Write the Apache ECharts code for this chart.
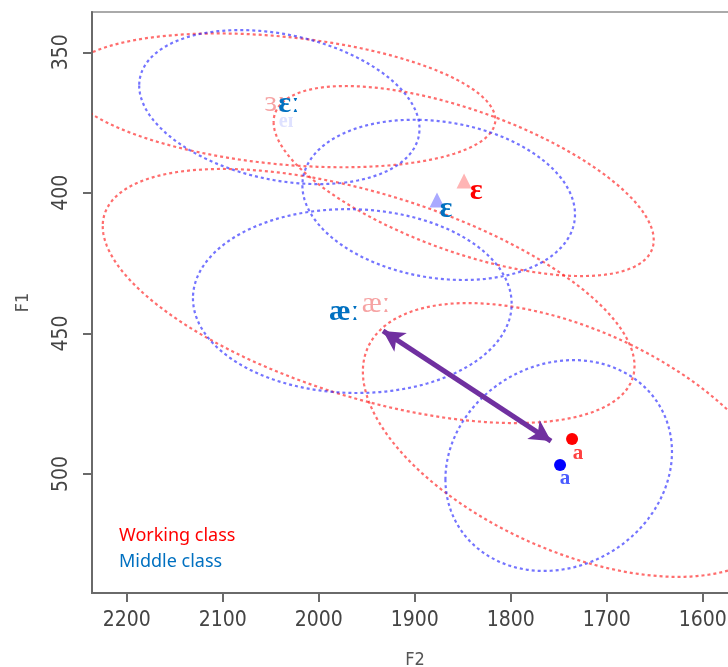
<!DOCTYPE html>
<html>
<head>
<meta charset="utf-8">
<script src="https://cdn.jsdelivr.net/npm/echarts@6/dist/echarts.min.js"></script>
<style>
  html, body { margin: 0; padding: 0; background: #ffffff; }
  #chart { width: 728px; height: 667px; }
</style>
</head>
<body>
<div id="chart"></div>
<script>
// ---- Data (F2 / F1 in Hz) ----
const vowels = ['ɛː', 'ɛ', 'æː', 'a'];

// Working class ellipses: centre, half-extent along F2 and F1, correlation
const wcCentreF2 = [2040, 1849, 1948, 1735];
const wcCentreF1 = [367.1, 395.8, 436.7, 487.9];
const wcHalfF2   = [224, 198, 277, 219];
const wcHalfF1   = [23.8, 33.8, 45.2, 48.7];
const wcCorr     = [-0.29, -0.62, -0.55, -0.50];

// Middle class ellipses
const mcCentreF2 = [2041, 1875, 1965, 1750];
const mcCentreF1 = [369.5, 402.5, 438.5, 497.0];
const mcHalfF2   = [146, 142, 166, 118];
const mcHalfF1   = [27.4, 28.5, 32.7, 37.5];
const mcCorr     = [-0.28, -0.18, -0.03, 0.13];

// Mean points
const wcPointF2 = [1736.1]; const wcPointF1 = [487.6];
const mcPointF2 = [1748.6]; const mcPointF1 = [496.8];
const wcTriF2 = [1848.6]; const wcTriF1 = [395.8];
const mcTriF2 = [1876.8]; const mcTriF1 = [402.5];

// Vowel labels
const mcBigText = ['ɛː', 'ɛ', 'æː'];
const mcBigF2   = [2031, 1867.4, 1973.6];
const mcBigF1   = [368.4, 405.7, 442.4];
const mcSmallText = ['a'];
const mcSmallF2   = [1743.4];
const mcSmallF1   = [501.8];
const wcBigText = ['ɛ'];
const wcBigF2   = [1836];
const wcBigF1   = [399.3];
const wcSmallText = ['a'];
const wcSmallF2   = [1729.9];
const wcSmallF1   = [492.9];
const paleRedText = ['ɜː', 'æː'];
const paleRedF2   = [2045.6, 1940.3];
const paleRedF1   = [368.0, 439.5];
const paleBlueText = ['eɪ'];
const paleBlueF2   = [2034];
const paleBlueF1   = [374.8];

// Arrow between working-class æː and a
const arrowF2 = [1933, 1758];
const arrowF1 = [449.1, 488.3];

// Axis ticks
const f2Ticks = [2200, 2100, 2000, 1900, 1800, 1700, 1600];
const f1Ticks = [350, 400, 450, 500];

// ---- Build ----
function rows(a, b, c, d, e) { return a.map((v, i) => [v, b[i], c[i], d[i], e[i]]); }
function pts(x, y) { return x.map((v, i) => [v, y[i]]); }

function ellipseRenderer(color) {
  return function (params, api) {
    const cx = api.value(0), cy = api.value(1), a = api.value(2), b = api.value(3), r = api.value(4);
    const phi = Math.acos(r);
    const points = [];
    const N = 180;
    for (let i = 0; i <= N; i++) {
      const t = 2 * Math.PI * i / N;
      points.push(api.coord([cx + a * Math.cos(t), cy + b * Math.cos(t - phi)]));
    }
    const cs = params.coordSys;
    return {
      type: 'polyline',
      shape: { points: points },
      style: { stroke: color, lineWidth: 2.2, lineDash: [3, 3], fill: null },
      clipPath: { type: 'rect', shape: { x: cs.x, y: cs.y, width: cs.width, height: cs.height } }
    };
  };
}

function labelSeries(textArr, f2, f1, color, size, weight, z) {
  return {
    type: 'scatter',
    symbolSize: 0,
    itemStyle: { color: color, opacity: 1 },
    silent: true,
    z: z,
    data: f2.map((v, i) => ({ value: [v, f1[i]], name: textArr[i] })),
    label: {
      show: true, position: 'inside', formatter: '{b}', color: color, opacity: 1,
      fontFamily: "'Liberation Serif', 'DejaVu Serif', serif",
      fontSize: size, fontWeight: weight
    }
  };
}

function pointSeries(symbol, size, color, f2, f1) {
  return { type: 'scatter', symbol: symbol, symbolSize: size, itemStyle: { color: color, opacity: 1 },
           data: pts(f2, f1), z: 3, silent: true };
}

const axisFont = "'Liberation Sans Narrow', 'DejaVu Sans Condensed', 'Liberation Sans', sans-serif";

const option = {
  backgroundColor: '#ffffff',
  animation: false,
  grid: { left: 92, top: 12, width: 646, height: 581, outerBoundsMode: 'none', containLabel: false,
          show: true, borderColor: '#aaaaaa', borderWidth: 2 },
  xAxis: {
    type: 'value', inverse: true, min: 1563.23, max: 2236.15,
    name: 'F2', nameLocation: 'middle', nameGap: 58,
    nameTextStyle: { fontFamily: axisFont, fontSize: 18, color: '#555' },
    axisLine: { show: true, lineStyle: { color: '#6a6a6a', width: 2 } },
    axisTick: { show: true, length: 9, lineStyle: { color: '#6a6a6a', width: 2 }, customValues: f2Ticks },
    axisLabel: { margin: 17, fontFamily: axisFont, fontSize: 21, color: '#444', customValues: f2Ticks,
                 formatter: function (v) { return String(v); } },
    splitLine: { show: false }
  },
  yAxis: {
    type: 'value', inverse: true, min: 335.67, max: 542.34,
    name: 'F1', nameLocation: 'middle', nameGap: 60, nameRotate: 90,
    nameTextStyle: { fontFamily: axisFont, fontSize: 18, color: '#555' },
    axisLine: { show: true, lineStyle: { color: '#6a6a6a', width: 2 } },
    axisTick: { show: true, length: 9, lineStyle: { color: '#6a6a6a', width: 2 }, customValues: f1Ticks },
    axisLabel: { rotate: 90, margin: 20, fontFamily: axisFont, fontSize: 21, color: '#444', customValues: f1Ticks,
                 formatter: function (v) { return String(v); } },
    splitLine: { show: false }
  },
  graphic: [
    { type: 'text', left: 119, top: 527, style: { text: 'Working class', fill: '#ff0000', font: "18px 'Noto Sans', 'Open Sans', sans-serif" } },
    { type: 'text', left: 119, top: 553, style: { text: 'Middle class', fill: '#0070c0', font: "18px 'Noto Sans', 'Open Sans', sans-serif" } }
  ],
  series: [
    { type: 'custom', name: 'Working class', renderItem: ellipseRenderer('rgba(255,30,30,0.65)'),
      data: rows(wcCentreF2, wcCentreF1, wcHalfF2, wcHalfF1, wcCorr), encode: { x: 0, y: 1 }, silent: true, z: 2 },
    { type: 'custom', name: 'Middle class', renderItem: ellipseRenderer('rgba(30,30,255,0.62)'),
      data: rows(mcCentreF2, mcCentreF1, mcHalfF2, mcHalfF1, mcCorr), encode: { x: 0, y: 1 }, silent: true, z: 2 },
    pointSeries('triangle', 15, '#ffb4b4', wcTriF2, wcTriF1),
    pointSeries('triangle', 15, '#a9a9ff', mcTriF2, mcTriF1),
    pointSeries('circle', 12, '#ff0000', wcPointF2, wcPointF1),
    pointSeries('circle', 12, '#0000ff', mcPointF2, mcPointF1),
    labelSeries(paleBlueText, paleBlueF2, paleBlueF1, '#dfe2ff', 20, 'bold', 4),
    labelSeries(paleRedText, paleRedF2, paleRedF1, '#f6a3a3', 30, 'normal', 4),
    labelSeries(mcBigText, mcBigF2, mcBigF1, '#0070c0', 30, 'bold', 5),
    labelSeries(mcSmallText, mcSmallF2, mcSmallF1, '#4a5cff', 21, 'bold', 5),
    labelSeries(wcBigText, wcBigF2, wcBigF1, '#ff0000', 30, 'bold', 5),
    labelSeries(wcSmallText, wcSmallF2, wcSmallF1, '#ff4040', 21, 'bold', 5),
    {
      type: 'scatter', symbolSize: 0, silent: true, data: [],
      markLine: {
        silent: true, symbol: ['arrow', 'arrow'], symbolSize: [17, 21],
        label: { show: false },
        lineStyle: { color: '#7030a0', width: 5, type: 'solid', opacity: 1 },
        data: [[{ coord: [arrowF2[0], arrowF1[0]] }, { coord: [arrowF2[1], arrowF1[1]] }]]
      },
      z: 7
    }
  ]
};

const chart = echarts.init(document.getElementById('chart'), null, { renderer: 'canvas' });
chart.setOption(option);
</script>
</body>
</html>
